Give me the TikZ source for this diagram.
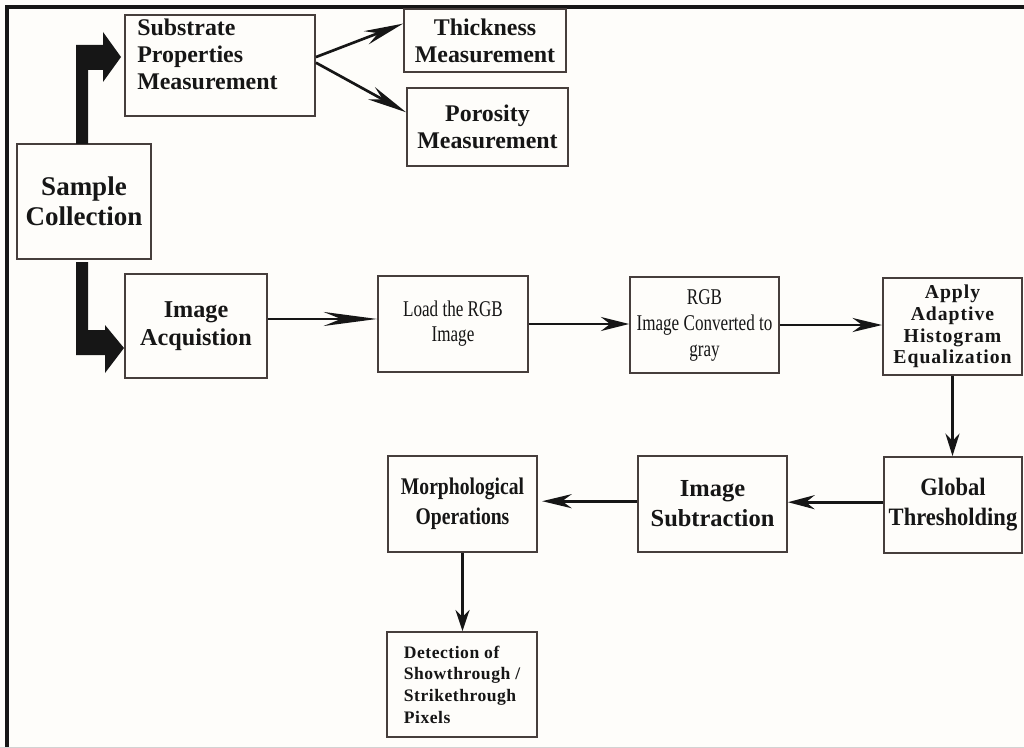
\documentclass[tikz,border=0pt]{standalone}
\usepackage{fontspec}
\setmainfont{Liberation Serif}
\newfontfamily\narrowA[FakeStretch=0.76]{Liberation Serif}
\newfontfamily\narrowB[FakeStretch=0.82]{Liberation Serif}
\newfontfamily\narrowC[FakeStretch=0.9]{Liberation Serif}
\newfontfamily\spacedA[LetterSpace=5]{Liberation Serif}
\newfontfamily\spacedB[LetterSpace=3]{Liberation Serif}
\usetikzlibrary{arrows.meta}
\definecolor{paper}{RGB}{254,253,250}
\definecolor{boxline}{RGB}{70,62,60}
\definecolor{ink}{RGB}{22,22,22}

\begin{document}
\begin{tikzpicture}[x=0.025cm,y=-0.025cm,
        every node/.style={text=ink},
        box/.style={draw=boxline,fill=paper,line width=1.3pt,inner sep=2pt,align=center},
        flow/.style={draw=ink,line width=1.9pt,-{Stealth[length=#1,width=10pt]}},
        flow/.default=20pt
    ]
        \fill[paper] (0,0) rectangle (1024,748);
        \useasboundingbox (0,0) rectangle (1024,748);
        \draw[ink,line width=2.4pt] (7,748) -- (7,7) -- (1024,7);
        \draw[gray!35,line width=1pt] (0,747.5) -- (1024,747.5);

        \node[box,minimum width=4.75cm,minimum height=2.525cm] (sub) at (220,65.5) {};
        \node[anchor=north west,align=left,inner sep=0pt,
            font=\fontsize{17}{19}\selectfont\bfseries] (subtext) at (137,19) {Substrate\\Properties\\Measurement};
        \node[box,minimum width=4.05cm,minimum height=1.575cm,
            font=\fontsize{17}{19}\selectfont\bfseries] (thick) at (485,40.5) {Thickness\\Measurement};
        \node[box,minimum width=4.025cm,minimum height=1.95cm,
            font=\fontsize{17}{19.5}\selectfont\bfseries] (poro) at (487.5,127) {Porosity\\Measurement};
        \node[box,minimum width=3.35cm,minimum height=2.875cm,
            font=\fontsize{19.2}{21.5}\selectfont\bfseries] (sample) at (84,201.5) {Sample\\Collection};
        \node[box,minimum width=3.55cm,minimum height=2.6cm,
            font=\fontsize{17.2}{20}\selectfont\bfseries] (acq) at (196,326) {Image\\Acquistion};
        \node[box,minimum width=3.75cm,minimum height=2.4cm,
            font=\narrowA\fontsize{16}{17.8}\selectfont] (load) at (453,324) {Load the RGB\\Image};
        \node[box,minimum width=3.725cm,minimum height=2.4cm,
            font=\narrowA\fontsize{16}{18.5}\selectfont] (conv) at (704.5,325) {RGB\\Image Converted to\\gray};
        \node[box,minimum width=3.475cm,minimum height=2.425cm,
            font=\spacedA\fontsize{14}{15.4}\selectfont\bfseries] (apply) at (952.5,326.5) {Apply\\Adaptive\\Histogram\\Equalization};
        \node[box,minimum width=3.45cm,minimum height=2.4cm,
            font=\narrowC\fontsize{17.8}{21.3}\selectfont\bfseries] (glob) at (953,505) {Global\\Thresholding};
        \node[box,minimum width=3.725cm,minimum height=2.4cm,
            font=\fontsize{17.4}{21.3}\selectfont\bfseries] (subt) at (712.5,504) {Image\\Subtraction};
        \node[box,minimum width=3.725cm,minimum height=2.4cm,
            font=\narrowB\fontsize{17}{21}\selectfont\bfseries] (morph) at (462.5,504) {Morphological\\Operations};
        \node[box,align=left,minimum width=3.75cm,minimum height=2.625cm,
            font=\spacedB\fontsize{12.5}{15.4}\selectfont\bfseries] (detect) at (462,684.5) {Detection of\\Showthrough /\\Strikethrough\\Pixels};

        \fill[ink] (76,144) -- (76,45) -- (103,45) -- (103,32) -- (121,57) -- (103,82) -- (103,70) -- (88,70) -- (88,144) -- cycle;
        \fill[ink] (76,262) -- (88,262) -- (88,330) -- (105,330) -- (105,325) -- (124,348) -- (105,373) -- (105,355) -- (76,355) -- cycle;

        \draw[flow=28pt] ([yshift=6pt]sub.east) -- ([yshift=12pt]thick.west);
        \draw[flow=28pt] ([yshift=2pt]sub.east) -- ([yshift=10.5pt]poro.west);
        \draw[flow=38pt] ([yshift=5pt]acq.east) -- ([yshift=5pt]acq.east -| load.west);
        \draw[flow] (load.east) -- (load.east -| conv.west);
        \draw[flow=21pt] (conv.east) -- (conv.east -| apply.west);
        \draw[flow=16pt] (apply.south) -- (apply.south |- glob.north);
        \draw[flow=19pt] ([yshift=2pt]glob.west) -- ([yshift=2pt]glob.west -| subt.east);
        \draw[flow=21pt,shorten >=3pt] ([yshift=2pt]subt.west) -- ([yshift=2pt]subt.west -| morph.east);
        \draw[flow=15pt] (morph.south) -- (morph.south |- detect.north);
    \end{tikzpicture}
\end{document}
